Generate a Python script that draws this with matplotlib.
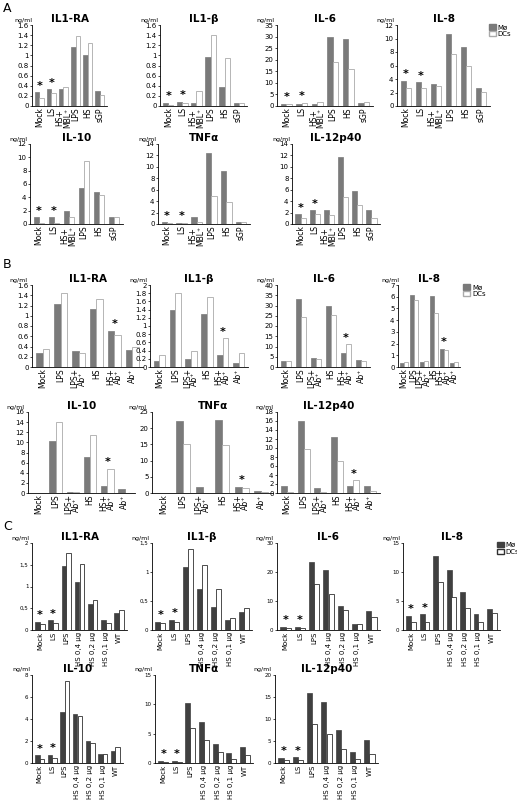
import matplotlib
matplotlib.use("Agg")
import matplotlib.pyplot as plt
import numpy as np

W, H = 517, 800
cats_A = ["Mock", "LS", "HS+\nMBL\u207a", "LPS", "HS", "sGP"]
cats_B = ["Mock", "LPS", "LPS+\nAb\u207a", "HS", "HS+\nAb\u207a", "Ab\u207a"]
cats_C = ["Mock", "LS", "LPS", "HS 0,4 \u00b5g", "HS 0,2 \u00b5g", "HS 0,1 \u00b5g", "WT"]
titles = ["IL1-RA", "IL1-\u03b2", "IL-6", "IL-8", "IL-10", "TNF\u03b1", "IL-12p40"]

# Panel A
A_mo = [[0.27,0.33,0.34,1.16,1.0,0.3],[0.06,0.08,0.06,0.97,0.38,0.06],[1,1,1,30,29,1.5],
        [3.7,3.5,3.2,10.6,8.7,2.7],[1.0,1.0,2.0,5.4,4.8,1.1],[0.3,0.2,1.2,12.4,9.3,0.3],
        [1.7,2.4,2.4,11.7,5.8,2.4]]
A_dc = [[0.15,0.26,0.37,1.39,1.24,0.22],[0.02,0.06,0.3,1.4,0.95,0.06],[1,1.5,1.8,19,16,1.8],
        [2.6,2.6,3.0,7.7,6.0,2.1],[0.1,0.1,1.1,9.4,4.4,1.0],[0.1,0.1,0.3,4.9,3.9,0.4],
        [1.1,1.8,1.5,4.7,3.3,1.0]]
A_ymax = [1.6,1.6,35,12,12,14,14]
A_step = [0.2,0.2,5,2,2,2,2]
A_stars = [0, 1]

# Panel B
B_mo = [[0.28,1.22,0.32,1.14,0.7,0.34],[0.15,1.38,0.2,1.3,0.3,0.1],[3,33,4.5,30,7,3.5],
        [0.35,6.15,0.45,6.1,1.55,0.35],[0.05,10.2,0.2,7.2,1.4,0.7],[0.1,22.3,2,22.6,2,0.7],
        [1.5,15.9,1.1,12.4,1.5,1.5]]
B_dc = [[0.36,1.45,0.28,1.32,0.62,0.4],[0.3,1.8,0.38,1.7,0.7,0.33],[2.8,24.5,3.8,25.5,11,3],
        [0.4,5.7,0.5,4.6,1.45,0.45],[0.05,14,0.2,11.4,4.8,0.05],[0.05,15,0.1,14.8,1.5,0.2],
        [0.3,9.7,0.3,7.1,2.8,0.5]]
B_ymax = [1.6,2,40,7,16,25,18]
B_step = [0.2,0.2,5,1,2,5,2]
B_stars = [4]

# Panel C
C_mo = [[0.18,0.22,1.47,1.1,0.6,0.22,0.4],[0.14,0.17,1.09,0.71,0.4,0.17,0.31],
        [1,1,23.5,20.8,8.3,2,6.5],[2.5,2.7,12.8,10.4,6.6,2.7,3.6],[0.7,0.75,4.6,4.5,2.0,0.8,1.1],
        [0.4,0.4,10.2,7,3.2,1.7,2.8],[1.2,1.3,16,13.8,7.5,2.5,5.2]]
C_dc = [[0.14,0.15,1.76,1.52,0.69,0.15,0.46],[0.12,0.13,1.39,1.12,0.71,0.21,0.38],
        [0.8,0.8,15.8,12.5,7,2,4.5],[1.3,1.3,8.2,5.7,3.8,1.3,2.9],[0.4,0.45,7.5,4.3,1.8,0.8,1.5],
        [0.2,0.2,6,4,1.9,0.6,1.3],[0.7,0.7,8.9,6.7,3.1,1.0,2.1]]
C_ymax = [2,1.5,30,15,8,15,20]
C_step = [0.5,0.5,10,5,2,5,5]
C_stars = [0, 1]

fig = plt.figure(figsize=(W/100, H/100), dpi=100)
plt.rcParams['font.family'] = ['DejaVu Sans']

def ax_px(l, top, r, bot):
    return fig.add_axes([l/W, 1-bot/H, (r-l)/W, (bot-top)/H])

def fmt(v, comma):
    s = ("%g" % v)
    return s.replace(".", ",") if comma else s

def draw(ax, cats, mo, dc, ymax, step, stars, title, mocol, dcedge, comma, tickfs, xfs):
    x = np.arange(len(cats))
    w = 0.36
    ax.bar(x - w/2, mo, w, color=mocol, edgecolor=mocol, lw=0.5)
    ax.bar(x + w/2, dc, w, color="white", edgecolor=dcedge, lw=0.6)
    ax.set_xlim(-0.6, len(cats)-0.4)
    ax.set_ylim(0, ymax)
    ticks = np.arange(0, ymax + step/2, step)
    ax.set_yticks(ticks)
    ax.set_yticklabels([fmt(round(t, 2), comma) for t in ticks], fontsize=tickfs)
    ax.set_xticks(x)
    ax.set_xticklabels(cats, rotation=90, fontsize=xfs, linespacing=0.8)
    ax.tick_params(axis="x", length=0, pad=1)
    ax.tick_params(axis="y", length=1.5, pad=1, width=0.5)
    for s in ["top", "right"]:
        ax.spines[s].set_visible(False)
    for s in ["left", "bottom"]:
        ax.spines[s].set_linewidth(0.6)
    ax.set_title(title, fontsize=7.5, fontweight="bold", pad=2)
    ax.text(-0.12, 1.04, "ng/ml", transform=ax.transAxes, fontsize=4.5, ha="center")
    for i in stars:
        ax.text(x[i], max(mo[i], dc[i]) + ymax*0.02, "*", ha="center", va="bottom", fontsize=8, fontweight="bold")

def legend(ax, mocol, dcedge, xa):
    from matplotlib.patches import Patch
    ax.legend([Patch(facecolor=mocol, edgecolor=mocol), Patch(facecolor="white", edgecolor=dcedge)],
              ["M\u00f8", "DCs"], loc="upper left", bbox_to_anchor=(xa, 1.05),
              fontsize=5, frameon=False, handlelength=1, handleheight=0.8,
              borderpad=0, labelspacing=0.1, handletextpad=0.3)

# positions (left, top, right, bottom) px
posA = [(32,25,107,106),(160,25,247,106),(277,25,373,106),(397,25,490,106),
        (30,144,123,224),(158,144,250,224),(292,144,380,224)]
posB = [(32,285,143,367),(150,285,248,367),(277,285,370,367),(398,285,460,367),
        (28,412,135,493),(152,412,273,493),(277,412,380,493)]
posC = [(32,543,127,630),(152,543,252,630),(277,543,380,630),(403,543,500,630),
        (32,675,123,763),(155,675,253,763),(275,675,378,763)]
legx = [0.95, 0.98, 0.93]

for i in range(7):
    a = ax_px(*posA[i]); draw(a, cats_A, A_mo[i], A_dc[i], A_ymax[i], A_step[i], A_stars, titles[i], "#7a7a7a", "#aaaaaa", False, 5, 5.5)
    if i == 3: legend(a, "#7a7a7a", "#aaaaaa", legx[0])
    b = ax_px(*posB[i]); draw(b, cats_B, B_mo[i], B_dc[i], B_ymax[i], B_step[i], B_stars, titles[i], "#7a7a7a", "#aaaaaa", False, 5, 5.5)
    if i == 3: legend(b, "#7a7a7a", "#aaaaaa", 1.0)
    c = ax_px(*posC[i]); draw(c, cats_C, C_mo[i], C_dc[i], C_ymax[i], C_step[i], C_stars, titles[i], "#404040", "#303030", True, 4, 5)
    if i == 3: legend(c, "#404040", "#303030", legx[2])

fig.text(3/W, 1-8/H, "A", fontsize=9, va="center")
fig.text(3/W, 1-265/H, "B", fontsize=9, va="center")
fig.text(3/W, 1-527/H, "C", fontsize=9, va="center")

fig.savefig("out.png", dpi=100)
